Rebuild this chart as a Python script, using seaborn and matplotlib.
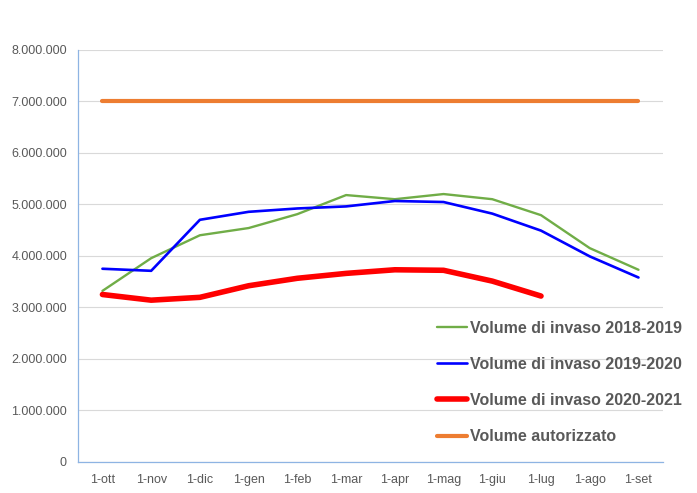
import numpy as np
import pandas as pd
import matplotlib
matplotlib.use("Agg")
import matplotlib.pyplot as plt
import seaborn as sns

# Dati: volumi di invaso mensili
mesi = ['1-ott', '1-nov', '1-dic', '1-gen', '1-feb', '1-mar',
        '1-apr', '1-mag', '1-giu', '1-lug', '1-ago', '1-set']

vol_2018_2019 = [3320000, 3955000, 4400000, 4540000, 4810000, 5180000,
                 5100000, 5200000, 5100000, 4790000, 4150000, 3730000]
vol_2019_2020 = [3750000, 3710000, 4700000, 4855000, 4920000, 4960000,
                 5065000, 5045000, 4820000, 4490000, 3990000, 3580000]
vol_2020_2021 = [3250000, 3140000, 3195000, 3420000, 3565000, 3660000,
                 3730000, 3720000, 3510000, 3220000]
vol_autorizzato = [7000000] * 12

serie = [
    ('Volume di invaso 2018-2019', vol_2018_2019, '#70AD47', 1.7),
    ('Volume di invaso 2019-2020', vol_2019_2020, '#0000FF', 1.9),
    ('Volume di invaso 2020-2021', vol_2020_2021, '#FF0000', 4.0),
    ('Volume autorizzato', vol_autorizzato, '#ED7D31', 3.0),
]

sns.set_theme(style='white')
plt.rcParams['font.family'] = ['Liberation Sans', 'DejaVu Sans']

fig = plt.figure(figsize=(6.97, 4.93), dpi=100)
ax = fig.add_axes([0.112, 0.063, 0.839, 0.836])

for nome, valori, colore, lw in serie:
    df = pd.DataFrame({'mese': mesi[:len(valori)], 'volume': valori})
    sns.lineplot(data=df, x='mese', y='volume', ax=ax, color=colore,
                 linewidth=lw, label=nome, sort=False, solid_capstyle='round')

ax.set_xlim(-0.5, 11.5)
ax.set_ylim(0, 8000000)
ax.set_yticks(np.arange(0, 8000001, 1000000))
ax.set_yticklabels([f"{int(v):,}".replace(",", ".") for v in ax.get_yticks()])
ax.set_xticks(range(len(mesi)))
ax.set_xticklabels(mesi)
ax.set_xticks(np.arange(-0.5, 12, 1), minor=True)

ax.grid(axis='y', color='#D9D9D9', linewidth=0.8)
ax.set_axisbelow(True)
ax.set_xlabel('')
ax.set_ylabel('')

for lato in ['top', 'right']:
    ax.spines[lato].set_visible(False)
for lato in ['left', 'bottom']:
    ax.spines[lato].set_color('#8EB4E3')
    ax.spines[lato].set_linewidth(0.9)

ax.tick_params(axis='x', which='major', length=0, pad=9, labelsize=9, labelcolor='#595959')
ax.tick_params(axis='x', which='minor', length=5, width=0.9, color='#8EB4E3', direction='out')
ax.tick_params(axis='y', length=0, pad=8, labelsize=9, labelcolor='#595959')

leg = ax.legend(loc='upper left', bbox_to_anchor=(0.614, 0.343), frameon=False,
                borderaxespad=0, borderpad=0,
                handlelength=1.9, handletextpad=0.15, labelspacing=1.33,
                prop={'size': 11.5, 'weight': 'bold'})
for testo in leg.get_texts():
    testo.set_color('#595959')

fig.savefig('out.png', dpi=100)
